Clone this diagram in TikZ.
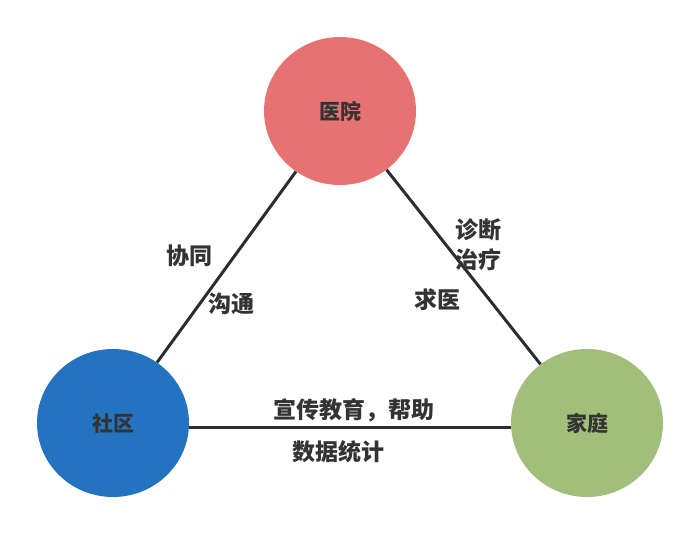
\documentclass[tikz,border=0pt]{standalone}
\usepackage{fontspec}
\setmainfont{Noto Sans CJK SC}
\usetikzlibrary{shapes.geometric}
\definecolor{hred}{HTML}{E67371}
\definecolor{cblue}{HTML}{2473C0}
\definecolor{fgreen}{HTML}{A1BF7B}
\definecolor{txt}{HTML}{333333}
\definecolor{edge}{HTML}{2A2E33}
\begin{document}
\begin{tikzpicture}[x=1pt,y=-1pt,
  party/.style={ellipse,minimum width=152pt,minimum height=148pt,inner sep=0pt,text=txt,font=\fontsize{21}{23}\selectfont\bfseries},
  conn/.style={draw=edge,line width=3pt},
  lbl/.style={text=txt,inner sep=1pt,font=\fontsize{23}{25}\selectfont\bfseries}]
\useasboundingbox (0,0) rectangle (700,534);
\node[party,fill=hred] (hosp) at (340,111) {医院};
\node[party,fill=cblue] (comm) at (113,423) {社区};
\node[party,fill=fgreen] (home) at (587,423) {家庭};
\draw[conn] (hosp) -- (comm);
\draw[conn] (hosp) -- (home);
\draw[conn] ([yshift=-4pt]comm.east) -- ([yshift=-4pt]home.west);
\node[lbl] (l1) at (189,256) {协同};
\node[lbl] (l2) at (231,304) {沟通};
\node[lbl] (l3) at (478,230) {诊断};
\node[lbl] (l4) at (478,260) {治疗};
\node[lbl] (l5) at (437,300) {求医};
\node[lbl] (l6) at (354,410) {宣传教育，帮助};
\node[lbl] (l7) at (338,452) {数据统计};
\end{tikzpicture}
\end{document}
